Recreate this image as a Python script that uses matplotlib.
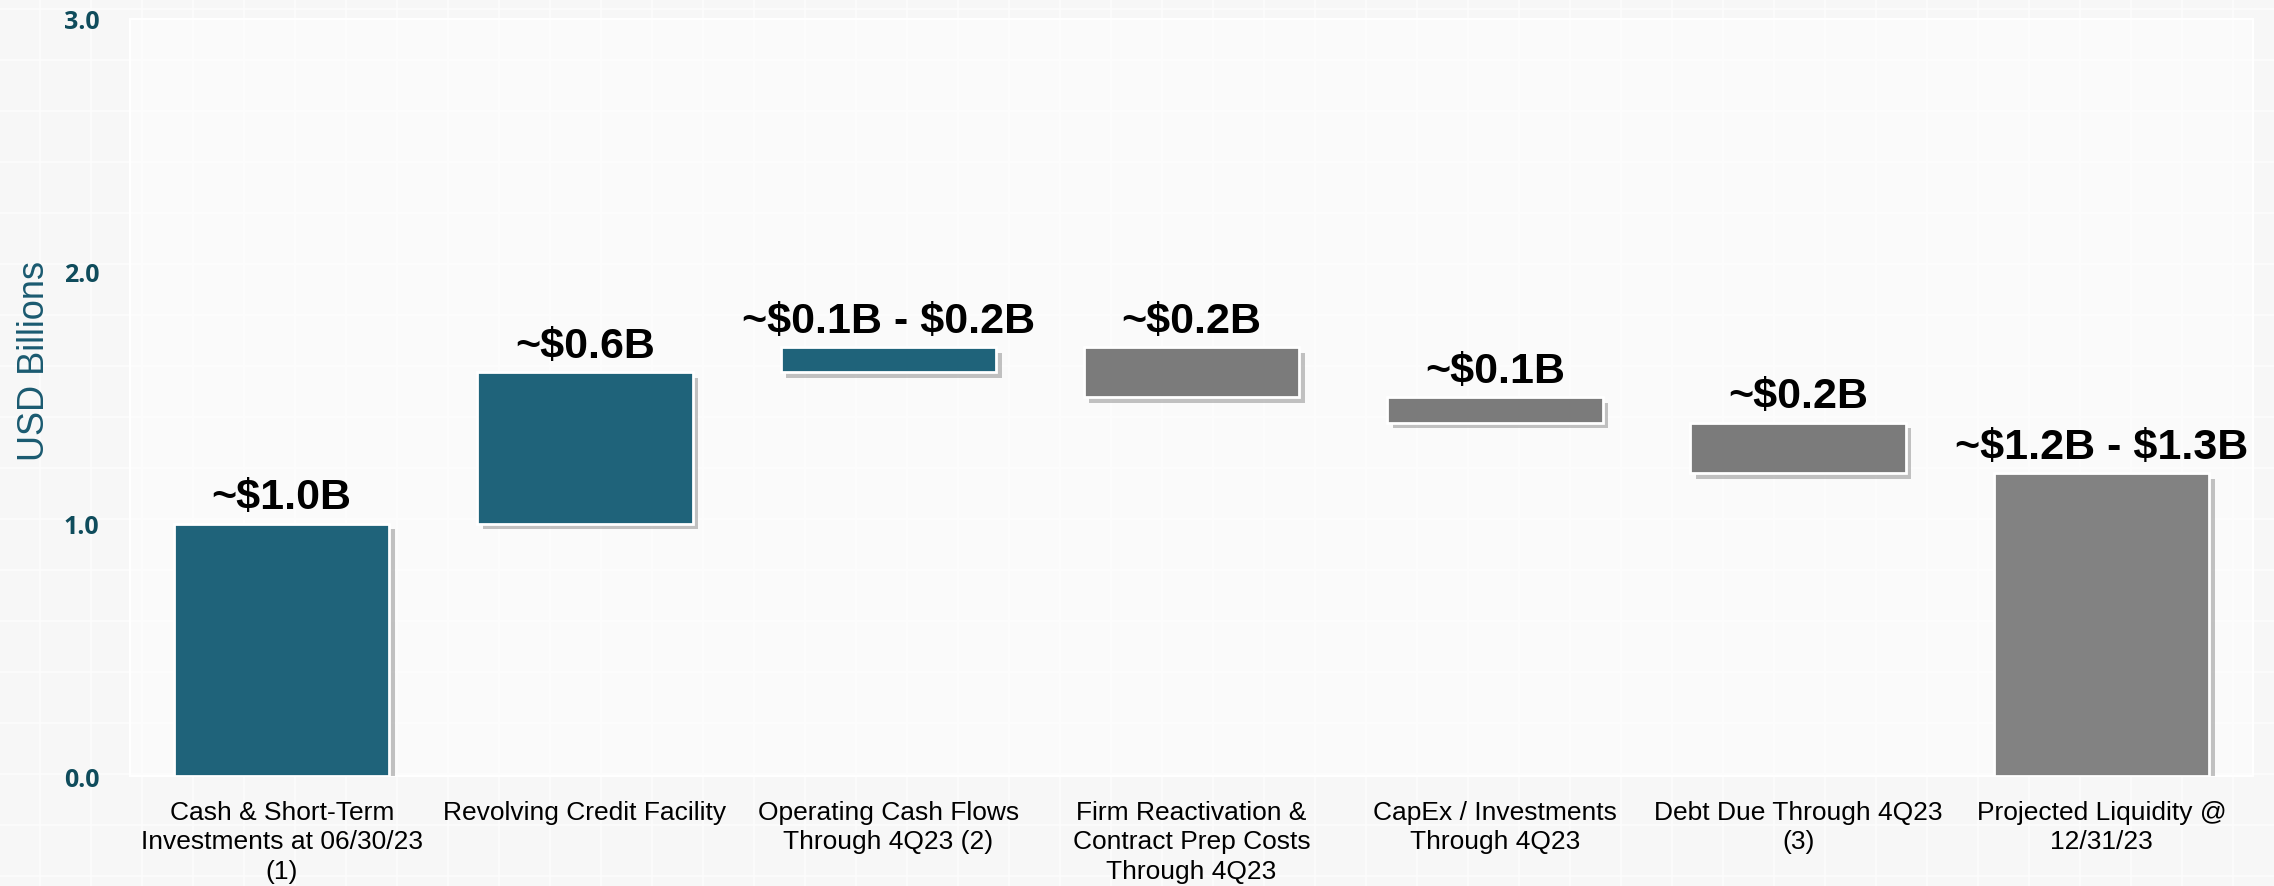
import matplotlib
matplotlib.use("Agg")
import matplotlib.pyplot as plt
import matplotlib.patheffects as pe
import numpy as np

# waterfall steps, USD billions
categories = ["Cash & Short-Term\nInvestments at 06/30/23\n(1)",
              "Revolving Credit Facility",
              "Operating Cash Flows\nThrough 4Q23 (2)",
              "Firm Reactivation &\nContract Prep Costs\nThrough 4Q23",
              "CapEx / Investments\nThrough 4Q23",
              "Debt Due Through 4Q23\n(3)",
              "Projected Liquidity @\n12/31/23"]
changes = [1.0, 0.6, 0.1, -0.2, -0.1, -0.2]
value_labels = [r"~\$1.0B", r"~\$0.6B", r"~\$0.1B - \$0.2B", r"~\$0.2B",
                r"~\$0.1B", r"~\$0.2B", r"~\$1.2B - \$1.3B"]
colors = ["#1f637a", "#1f637a", "#1f637a", "#7b7b7b", "#7b7b7b", "#7b7b7b", "#828282"]

# running totals -> bar bottoms / heights
bottoms = []
heights = []
total = 0.0
for c in changes:
    if c >= 0:
        bottoms.append(total)
        heights.append(c)
    else:
        bottoms.append(total + c)
        heights.append(-c)
    total += c
bottoms.append(0.0)
heights.append(total)

fig = plt.figure(figsize=(22.74, 8.87), dpi=100)
fig.patch.set_facecolor("#f7f7f7")

# faint squared background pattern
bg = fig.add_axes([0, 0, 1, 1], zorder=-5)
bg.set_xlim(0, 2274)
bg.set_ylim(0, 887)
bg.set_facecolor("#f7f7f7")
for gx in np.arange(40, 2274, 51):
    bg.axvline(gx, color="#fdfdfd", lw=1.2)
for gy in np.arange(10, 887, 51):
    bg.axhline(gy, color="#fdfdfd", lw=1.2)
bg.axis("off")

ax = fig.add_axes([0.0572, 0.124, 0.9336, 0.8535])
ax.set_facecolor("#fdfdfd")
ax.patch.set_alpha(0.6)

x = np.arange(len(categories))
bars = ax.bar(x, heights, bottom=bottoms, width=0.71, color=colors,
              edgecolor="white", linewidth=2, zorder=3)
for b in bars:
    b.set_path_effects([pe.SimplePatchShadow(offset=(4, -4), shadow_rgbFace="#555555", alpha=0.35),
                        pe.Normal()])

for xi, b, h, lab in zip(x, bottoms, heights, value_labels):
    ax.text(xi, b + h + 0.025, lab, ha="center", va="bottom",
            fontsize=31, fontweight="bold", family="Liberation Sans", color="black", zorder=4)

ax.set_xlim(-0.5, 6.5)
ax.set_ylim(0, 3.0)
ax.set_yticks([0, 1, 2, 3])
ax.set_yticklabels(["0.0", "1.0", "2.0", "3.0"], fontsize=18, fontweight="bold",
                   family="Open Sans", color="#0f4c5c")
ax.set_xticks(x)
ax.set_xticklabels(categories, fontsize=19, family="Liberation Sans", color="black",
                   linespacing=1.3)
ax.tick_params(axis="both", length=0)
ax.tick_params(axis="x", pad=17)
ax.tick_params(axis="y", pad=22)

ax.set_ylabel("USD Billions", fontsize=26, family="Liberation Sans", color="#1a5a70")
ax.yaxis.set_label_coords(-0.037, 0.55)

for s in ax.spines.values():
    s.set_color("white")
    s.set_linewidth(1.5)

fig.savefig("out.png", dpi=100, facecolor=fig.get_facecolor())
